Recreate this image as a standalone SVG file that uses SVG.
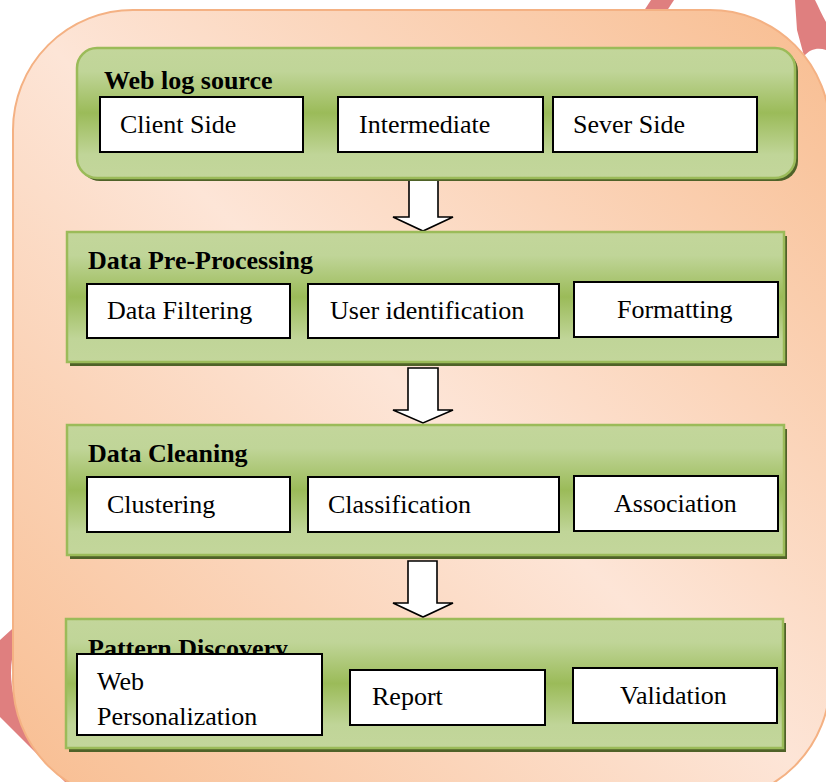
<svg xmlns="http://www.w3.org/2000/svg" width="826" height="782" viewBox="0 0 826 782">
<defs>
<linearGradient id="peach" x1="0" y1="1" x2="1" y2="0">
<stop offset="0" stop-color="#f8bd90"/>
<stop offset="0.5" stop-color="#fde5d7"/>
<stop offset="1" stop-color="#f8bd90"/>
</linearGradient>
<linearGradient id="green" x1="0" y1="0" x2="0" y2="1">
<stop offset="0" stop-color="#c3d69b"/>
<stop offset="0.18" stop-color="#c0d598"/>
<stop offset="0.5" stop-color="#9bbb59"/>
<stop offset="0.82" stop-color="#c0d598"/>
<stop offset="1" stop-color="#c3d69b"/>
</linearGradient>
<style>
.panel{fill:url(#green);stroke:#9bbb59;stroke-width:2.5}
.shadow{fill:#4f6228}
.box{fill:#ffffff;stroke:#000000;stroke-width:2}
.title{font-family:"Liberation Serif","Times New Roman",serif;font-size:26px;font-weight:bold;fill:#000}
.lbl{font-family:"Liberation Serif","Times New Roman",serif;font-size:26px;fill:#000}
.arrow{fill:#ffffff;stroke:#000000;stroke-width:1.6;stroke-linejoin:miter}
.red{fill:#df7f7f}
</style>
</defs>
<g id="background">
<polygon class="red" points="630,32 651,0 674,0 653,32"/>
<path class="red" d="M 795 0 L 815 0 C 819 8 822 15 826 22 L 826 50 C 818 47 810 49 804 56 L 797 30 Z"/>
<path class="red" d="M 22 620 L 0 640 L 0 717 L 65 782 L 200 782 L 40 700 Z"/>
<path d="M 15 648 Q 7 670 15 702 Z" fill="#ffffff"/>
<rect x="13" y="10" width="817" height="791" rx="120" ry="120" fill="url(#peach)" stroke="#f4b183" stroke-width="2"/>
</g>
<g id="connectors">
<polygon class="arrow" points="409,178 438,178 438,217 453,217 423,231 393,217 409,217"/>
<polygon class="arrow" points="408,368 438,368 438,410 453,410 423,423 393,410 408,410"/>
<polygon class="arrow" points="408,561 437,561 437,603 453,603 423,617 393,603 408,603"/>
</g>
<g id="web-log-source">
<rect class="shadow" x="80" y="51" width="718" height="130" rx="20" ry="20"/>
<rect class="panel" x="77" y="48" width="718" height="130" rx="20" ry="20"/>
<text class="title" x="104" y="89">Web log source</text>
<g id="client-side"><rect class="box" x="100" y="97" width="203" height="55"/><text class="lbl" x="120" y="133">Client Side</text></g>
<g id="intermediate"><rect class="box" x="338" y="97" width="205" height="55"/><text class="lbl" x="359" y="133">Intermediate</text></g>
<g id="sever-side"><rect class="box" x="553" y="97" width="204" height="55"/><text class="lbl" x="573" y="133">Sever Side</text></g>
</g>
<g id="data-pre-processing">
<rect class="shadow" x="70" y="236" width="717" height="130"/>
<rect class="panel" x="67" y="232" width="717" height="130"/>
<text class="title" x="88" y="269">Data Pre-Processing</text>
<g id="data-filtering"><rect class="box" x="87" y="284" width="203" height="54"/><text class="lbl" x="107" y="319">Data Filtering</text></g>
<g id="user-identification"><rect class="box" x="308" y="284" width="251" height="54"/><text class="lbl" x="330" y="319">User identification</text></g>
<g id="formatting"><rect class="box" x="574" y="282" width="204" height="55"/><text class="lbl" x="617" y="318">Formatting</text></g>
</g>
<g id="data-cleaning">
<rect class="shadow" x="70" y="429" width="717" height="130"/>
<rect class="panel" x="67" y="425" width="717" height="130"/>
<text class="title" x="88" y="462">Data Cleaning</text>
<g id="clustering"><rect class="box" x="87" y="477" width="203" height="55"/><text class="lbl" x="107" y="513">Clustering</text></g>
<g id="classification"><rect class="box" x="308" y="477" width="251" height="55"/><text class="lbl" x="328" y="513">Classification</text></g>
<g id="association"><rect class="box" x="574" y="476" width="204" height="55"/><text class="lbl" x="614" y="512">Association</text></g>
</g>
<g id="pattern-discovery">
<rect class="shadow" x="69" y="623" width="717" height="129"/>
<rect class="panel" x="66" y="619" width="717" height="129"/>
<text class="title" x="88" y="657">Pattern Discovery</text>
<g id="web-personalization"><rect class="box" x="77" y="654" width="245" height="81"/><text class="lbl" x="97" y="690">Web</text><text class="lbl" x="97" y="725">Personalization</text></g>
<g id="report"><rect class="box" x="350" y="670" width="195" height="55"/><text class="lbl" x="372" y="705">Report</text></g>
<g id="validation"><rect class="box" x="573" y="668" width="204" height="55"/><text class="lbl" x="620" y="704">Validation</text></g>
</g>
</svg>
